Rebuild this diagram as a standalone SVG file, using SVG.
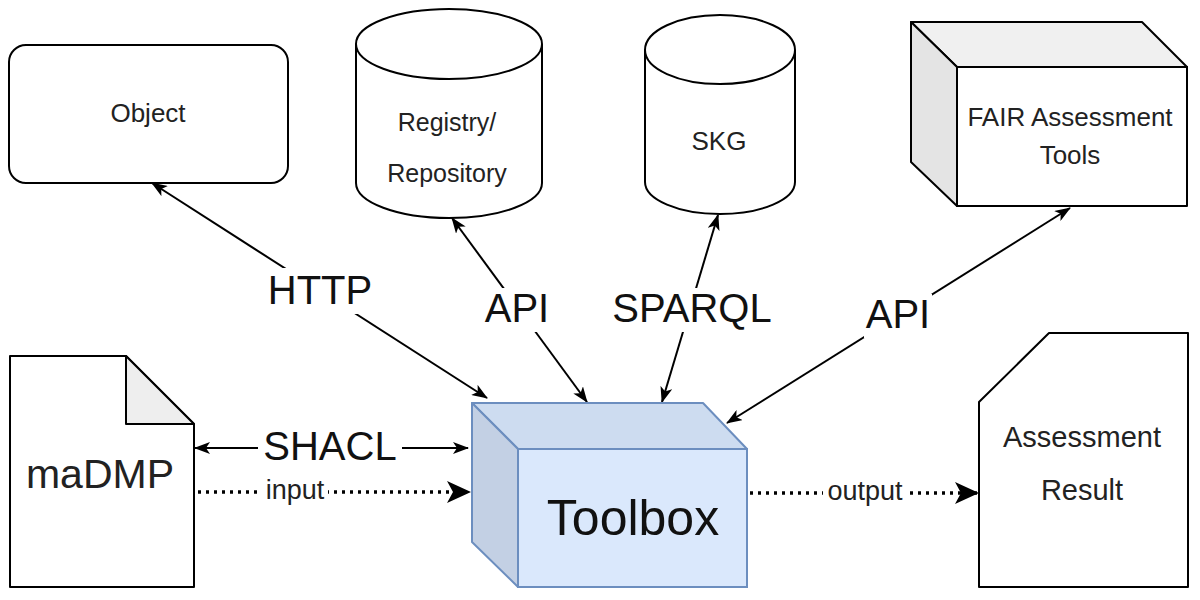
<svg xmlns="http://www.w3.org/2000/svg" width="1200" height="600" viewBox="0 0 1200 600">
<style>
.shape{fill:#fff;stroke:#000;stroke-width:2;stroke-linejoin:round}
.nt{font-family:"Liberation Sans",Arial,sans-serif;fill:#222;text-anchor:middle}
.lbl{font-family:"Liberation Sans",Arial,sans-serif;fill:#111;text-anchor:middle;font-size:40px}
.small{font-family:"Liberation Sans",Arial,sans-serif;fill:#222;text-anchor:middle;font-size:27px}
.edge{fill:none;stroke:#000;stroke-width:2}
.dot{fill:none;stroke:#000;stroke-width:3.5;stroke-dasharray:3 5}
.bg{fill:#fff}
</style>
<defs>
<marker id="arr" viewBox="0 0 16 12" refX="15" refY="6" markerWidth="16" markerHeight="12" markerUnits="userSpaceOnUse" orient="auto-start-reverse">
<path d="M0,0 L16,6 L0,12 L4,6 Z" fill="#000"/>
</marker>
<marker id="big" viewBox="0 0 24 22" refX="23" refY="11" markerWidth="24" markerHeight="22" markerUnits="userSpaceOnUse" orient="auto">
<path d="M0,0 L24,11 L0,22 L6,11 Z" fill="#000"/>
</marker>
</defs>

<g id="connectors">
<line class="edge" x1="487" y1="398" x2="152" y2="183" marker-start="url(#arr)" marker-end="url(#arr)"/>
<line class="edge" x1="587" y1="402" x2="452" y2="218" marker-start="url(#arr)" marker-end="url(#arr)"/>
<line class="edge" x1="662" y1="402" x2="718" y2="215" marker-start="url(#arr)" marker-end="url(#arr)"/>
<line class="edge" x1="727" y1="423" x2="1070" y2="208" marker-start="url(#arr)" marker-end="url(#arr)"/>
<line class="edge" x1="195" y1="448" x2="468" y2="448" marker-start="url(#arr)" marker-end="url(#arr)"/>
<line class="dot" x1="198" y1="492" x2="470" y2="492" marker-end="url(#big)"/>
<line class="dot" x1="750" y1="493" x2="978" y2="493" marker-end="url(#big)"/>
<g id="edge-labels">
<rect class="bg" x="264" y="268" width="112" height="46"/>
<text class="lbl" x="320" y="304">HTTP</text>
<rect class="bg" x="483" y="288" width="68" height="44"/>
<text class="lbl" x="517" y="322">API</text>
<rect class="bg" x="608" y="288" width="168" height="44"/>
<text class="lbl" x="692" y="322">SPARQL</text>
<rect class="bg" x="864" y="294" width="68" height="44"/>
<text class="lbl" x="898" y="328">API</text>
<rect class="bg" x="258" y="426" width="144" height="44"/>
<text class="lbl" x="330" y="460">SHACL</text>
<rect class="bg" x="262" y="476" width="66" height="32"/>
<text class="small" x="295" y="499">input</text>
<rect class="bg" x="823" y="477" width="84" height="32"/>
<text class="small" x="865" y="500">output</text>
</g>
</g>

<g id="object">
<rect class="shape" x="9" y="45" width="279" height="138" rx="17" ry="17"/>
<text class="nt" x="148" y="122" font-size="26">Object</text>
</g>

<g id="registry">
<path class="shape" d="M356,44 A93,35 0 0 1 542,44 L542,183 A93,35 0 0 1 356,183 Z"/>
<path class="shape" style="fill:none" d="M356,44 A93,35 0 0 0 542,44"/>
<text class="nt" x="447" y="131" font-size="25">Registry/</text>
<text class="nt" x="447" y="182" font-size="25">Repository</text>
</g>

<g id="skg">
<path class="shape" d="M645,50 A75,35 0 0 1 795,50 L795,182 A75,32 0 0 1 645,182 Z"/>
<path class="shape" style="fill:none" d="M645,50 A75,34 0 0 0 795,50"/>
<text class="nt" x="719" y="150" font-size="26">SKG</text>
</g>

<g id="fair-tools">
<polygon class="shape" points="911,22 1142,22 1187,67 957,67" style="fill:#f0f0f0"/>
<polygon class="shape" points="911,22 957,67 957,206 911,162" style="fill:#e4e4e4"/>
<rect class="shape" x="957" y="67" width="230" height="139"/>
<text class="nt" x="1070" y="126" font-size="26">FAIR Assessment</text>
<text class="nt" x="1070" y="164" font-size="26">Tools</text>
</g>

<g id="madmp">
<path class="shape" d="M10,356 L126,356 L194,424 L194,587 L10,587 Z"/>
<path class="shape" style="fill:#eeeeee" d="M126,356 L194,424 L126,424 Z"/>
<text class="nt" x="100" y="488" font-size="41">maDMP</text>
</g>

<g id="toolbox">
<polygon points="472,403 703,403 747,449 518,449" fill="#cddcf0" stroke="#6c8ebf" stroke-width="2" stroke-linejoin="round"/>
<polygon points="472,403 518,449 518,587 472,542" fill="#c3d0e4" stroke="#6c8ebf" stroke-width="2" stroke-linejoin="round"/>
<rect x="518" y="449" width="229" height="138" fill="#dae8fc" stroke="#6c8ebf" stroke-width="2"/>
<text class="nt" x="633" y="535" font-size="50" style="fill:#111">Toolbox</text>
</g>

<g id="assessment-result">
<path class="shape" d="M1049,333 L1188,333 L1188,587 L979,587 L979,402 Z"/>
<text class="nt" x="1082" y="447" font-size="29">Assessment</text>
<text class="nt" x="1082" y="500" font-size="29">Result</text>
</g>
</svg>
